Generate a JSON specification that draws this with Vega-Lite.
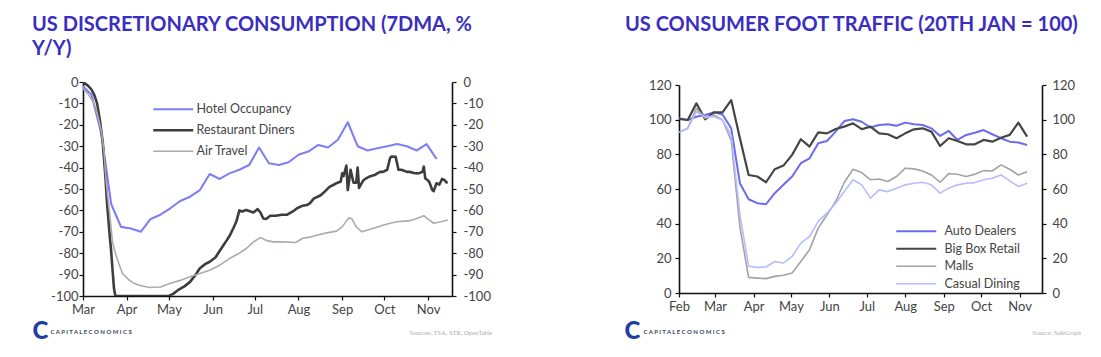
{
  "$schema": "https://vega.github.io/schema/vega-lite/v6.json",
  "background": "white",
  "padding": {"left": 32, "top": 15, "right": 0, "bottom": 0},
  "spacing": 132,
  "resolve": {"scale": {"color": "independent"}, "legend": {"color": "independent"}},
  "config": {
    "view": {"stroke": null},
    "font": "Lato",
    "title": {"font": "Lato", "fontSize": 20, "fontWeight": "bold", "color": "#3a2ec0", "anchor": "start", "frame": "group", "lineHeight": 24, "baseline": "top"},
    "axis": {"domainColor": "#111", "domainWidth": 1.6, "tickColor": "#111", "tickWidth": 1.2, "tickSize": 4, "labelFont": "Lato", "labelFontSize": 13, "labelColor": "#444", "grid": false, "labelPadding": 2},
    "legend": {"labelFont": "Lato", "labelFontSize": 12.5, "labelColor": "#444", "padding": 0}
  },
  "hconcat": [
    {
      "width": 369,
      "height": 214,
      "title": {"text": ["US DISCRETIONARY CONSUMPTION (7DMA, %", "Y/Y)"], "dx": -51, "offset": 17},
      "data": {"values": [
        {"d": "2020-03-01", "s": "Hotel Occupancy", "v": -2},
        {"d": "2020-03-07", "s": "Hotel Occupancy", "v": -6},
        {"d": "2020-03-14", "s": "Hotel Occupancy", "v": -24},
        {"d": "2020-03-21", "s": "Hotel Occupancy", "v": -57},
        {"d": "2020-03-28", "s": "Hotel Occupancy", "v": -67.7},
        {"d": "2020-04-04", "s": "Hotel Occupancy", "v": -68.5},
        {"d": "2020-04-11", "s": "Hotel Occupancy", "v": -70},
        {"d": "2020-04-18", "s": "Hotel Occupancy", "v": -64},
        {"d": "2020-04-25", "s": "Hotel Occupancy", "v": -62},
        {"d": "2020-05-02", "s": "Hotel Occupancy", "v": -59},
        {"d": "2020-05-09", "s": "Hotel Occupancy", "v": -55.6},
        {"d": "2020-05-16", "s": "Hotel Occupancy", "v": -53.6},
        {"d": "2020-05-23", "s": "Hotel Occupancy", "v": -50.5},
        {"d": "2020-05-30", "s": "Hotel Occupancy", "v": -43},
        {"d": "2020-06-06", "s": "Hotel Occupancy", "v": -45.3},
        {"d": "2020-06-13", "s": "Hotel Occupancy", "v": -42.7},
        {"d": "2020-06-20", "s": "Hotel Occupancy", "v": -41},
        {"d": "2020-06-27", "s": "Hotel Occupancy", "v": -38.8},
        {"d": "2020-07-04", "s": "Hotel Occupancy", "v": -30.6},
        {"d": "2020-07-11", "s": "Hotel Occupancy", "v": -38},
        {"d": "2020-07-18", "s": "Hotel Occupancy", "v": -38.8},
        {"d": "2020-07-25", "s": "Hotel Occupancy", "v": -37.5},
        {"d": "2020-08-01", "s": "Hotel Occupancy", "v": -34},
        {"d": "2020-08-08", "s": "Hotel Occupancy", "v": -32.5},
        {"d": "2020-08-15", "s": "Hotel Occupancy", "v": -29.4},
        {"d": "2020-08-22", "s": "Hotel Occupancy", "v": -30.6},
        {"d": "2020-08-29", "s": "Hotel Occupancy", "v": -27},
        {"d": "2020-09-05", "s": "Hotel Occupancy", "v": -18.8},
        {"d": "2020-09-12", "s": "Hotel Occupancy", "v": -30},
        {"d": "2020-09-19", "s": "Hotel Occupancy", "v": -32},
        {"d": "2020-09-26", "s": "Hotel Occupancy", "v": -31},
        {"d": "2020-10-03", "s": "Hotel Occupancy", "v": -30},
        {"d": "2020-10-10", "s": "Hotel Occupancy", "v": -29},
        {"d": "2020-10-17", "s": "Hotel Occupancy", "v": -30},
        {"d": "2020-10-24", "s": "Hotel Occupancy", "v": -32},
        {"d": "2020-10-31", "s": "Hotel Occupancy", "v": -29},
        {"d": "2020-11-07", "s": "Hotel Occupancy", "v": -36},
        {"d": "2020-03-01", "s": "Restaurant Diners", "v": 0},
        {"d": "2020-03-03", "s": "Restaurant Diners", "v": -1},
        {"d": "2020-03-05", "s": "Restaurant Diners", "v": -2},
        {"d": "2020-03-07", "s": "Restaurant Diners", "v": -3.5},
        {"d": "2020-03-09", "s": "Restaurant Diners", "v": -6},
        {"d": "2020-03-11", "s": "Restaurant Diners", "v": -10},
        {"d": "2020-03-13", "s": "Restaurant Diners", "v": -18},
        {"d": "2020-03-15", "s": "Restaurant Diners", "v": -28},
        {"d": "2020-03-17", "s": "Restaurant Diners", "v": -45},
        {"d": "2020-03-18", "s": "Restaurant Diners", "v": -56},
        {"d": "2020-03-20", "s": "Restaurant Diners", "v": -72},
        {"d": "2020-03-21", "s": "Restaurant Diners", "v": -79},
        {"d": "2020-03-22", "s": "Restaurant Diners", "v": -88},
        {"d": "2020-03-23", "s": "Restaurant Diners", "v": -96.5},
        {"d": "2020-03-24", "s": "Restaurant Diners", "v": -100},
        {"d": "2020-04-15", "s": "Restaurant Diners", "v": -100},
        {"d": "2020-05-01", "s": "Restaurant Diners", "v": -100},
        {"d": "2020-05-04", "s": "Restaurant Diners", "v": -99},
        {"d": "2020-05-08", "s": "Restaurant Diners", "v": -97},
        {"d": "2020-05-12", "s": "Restaurant Diners", "v": -95.5},
        {"d": "2020-05-16", "s": "Restaurant Diners", "v": -93.4},
        {"d": "2020-05-20", "s": "Restaurant Diners", "v": -90},
        {"d": "2020-05-23", "s": "Restaurant Diners", "v": -87},
        {"d": "2020-05-27", "s": "Restaurant Diners", "v": -85},
        {"d": "2020-05-30", "s": "Restaurant Diners", "v": -84},
        {"d": "2020-06-03", "s": "Restaurant Diners", "v": -82},
        {"d": "2020-06-06", "s": "Restaurant Diners", "v": -79},
        {"d": "2020-06-08", "s": "Restaurant Diners", "v": -77},
        {"d": "2020-06-11", "s": "Restaurant Diners", "v": -74},
        {"d": "2020-06-13", "s": "Restaurant Diners", "v": -72},
        {"d": "2020-06-16", "s": "Restaurant Diners", "v": -68},
        {"d": "2020-06-18", "s": "Restaurant Diners", "v": -65},
        {"d": "2020-06-20", "s": "Restaurant Diners", "v": -60},
        {"d": "2020-06-22", "s": "Restaurant Diners", "v": -60.5},
        {"d": "2020-06-25", "s": "Restaurant Diners", "v": -59.8},
        {"d": "2020-06-28", "s": "Restaurant Diners", "v": -60.5},
        {"d": "2020-06-30", "s": "Restaurant Diners", "v": -61},
        {"d": "2020-07-03", "s": "Restaurant Diners", "v": -59.4},
        {"d": "2020-07-05", "s": "Restaurant Diners", "v": -61},
        {"d": "2020-07-07", "s": "Restaurant Diners", "v": -63.8},
        {"d": "2020-07-09", "s": "Restaurant Diners", "v": -64},
        {"d": "2020-07-12", "s": "Restaurant Diners", "v": -62.5},
        {"d": "2020-07-16", "s": "Restaurant Diners", "v": -62.5},
        {"d": "2020-07-20", "s": "Restaurant Diners", "v": -62},
        {"d": "2020-07-24", "s": "Restaurant Diners", "v": -62},
        {"d": "2020-07-28", "s": "Restaurant Diners", "v": -60.5},
        {"d": "2020-07-31", "s": "Restaurant Diners", "v": -59},
        {"d": "2020-08-04", "s": "Restaurant Diners", "v": -57.8},
        {"d": "2020-08-07", "s": "Restaurant Diners", "v": -57.5},
        {"d": "2020-08-09", "s": "Restaurant Diners", "v": -56.7},
        {"d": "2020-08-12", "s": "Restaurant Diners", "v": -54.4},
        {"d": "2020-08-15", "s": "Restaurant Diners", "v": -53.5},
        {"d": "2020-08-17", "s": "Restaurant Diners", "v": -52.8},
        {"d": "2020-08-20", "s": "Restaurant Diners", "v": -51},
        {"d": "2020-08-23", "s": "Restaurant Diners", "v": -49},
        {"d": "2020-08-26", "s": "Restaurant Diners", "v": -48},
        {"d": "2020-08-28", "s": "Restaurant Diners", "v": -47.3},
        {"d": "2020-08-31", "s": "Restaurant Diners", "v": -46.5},
        {"d": "2020-09-01", "s": "Restaurant Diners", "v": -42.7},
        {"d": "2020-09-02", "s": "Restaurant Diners", "v": -44},
        {"d": "2020-09-04", "s": "Restaurant Diners", "v": -39},
        {"d": "2020-09-05", "s": "Restaurant Diners", "v": -50.5},
        {"d": "2020-09-07", "s": "Restaurant Diners", "v": -41},
        {"d": "2020-09-09", "s": "Restaurant Diners", "v": -47},
        {"d": "2020-09-11", "s": "Restaurant Diners", "v": -47},
        {"d": "2020-09-12", "s": "Restaurant Diners", "v": -40},
        {"d": "2020-09-13", "s": "Restaurant Diners", "v": -49.5},
        {"d": "2020-09-16", "s": "Restaurant Diners", "v": -46},
        {"d": "2020-09-18", "s": "Restaurant Diners", "v": -45},
        {"d": "2020-09-21", "s": "Restaurant Diners", "v": -44},
        {"d": "2020-09-24", "s": "Restaurant Diners", "v": -43.5},
        {"d": "2020-09-26", "s": "Restaurant Diners", "v": -42.7},
        {"d": "2020-09-28", "s": "Restaurant Diners", "v": -42},
        {"d": "2020-09-30", "s": "Restaurant Diners", "v": -42},
        {"d": "2020-10-03", "s": "Restaurant Diners", "v": -41},
        {"d": "2020-10-05", "s": "Restaurant Diners", "v": -35.6},
        {"d": "2020-10-06", "s": "Restaurant Diners", "v": -34.8},
        {"d": "2020-10-09", "s": "Restaurant Diners", "v": -35},
        {"d": "2020-10-11", "s": "Restaurant Diners", "v": -41},
        {"d": "2020-10-13", "s": "Restaurant Diners", "v": -41},
        {"d": "2020-10-15", "s": "Restaurant Diners", "v": -41.5},
        {"d": "2020-10-17", "s": "Restaurant Diners", "v": -42},
        {"d": "2020-10-19", "s": "Restaurant Diners", "v": -42},
        {"d": "2020-10-22", "s": "Restaurant Diners", "v": -42.5},
        {"d": "2020-10-24", "s": "Restaurant Diners", "v": -42.7},
        {"d": "2020-10-26", "s": "Restaurant Diners", "v": -42.5},
        {"d": "2020-10-28", "s": "Restaurant Diners", "v": -42},
        {"d": "2020-10-29", "s": "Restaurant Diners", "v": -39.5},
        {"d": "2020-10-30", "s": "Restaurant Diners", "v": -45},
        {"d": "2020-11-01", "s": "Restaurant Diners", "v": -46},
        {"d": "2020-11-02", "s": "Restaurant Diners", "v": -47},
        {"d": "2020-11-04", "s": "Restaurant Diners", "v": -50.5},
        {"d": "2020-11-05", "s": "Restaurant Diners", "v": -51},
        {"d": "2020-11-07", "s": "Restaurant Diners", "v": -47.3},
        {"d": "2020-11-09", "s": "Restaurant Diners", "v": -48},
        {"d": "2020-11-11", "s": "Restaurant Diners", "v": -45.3},
        {"d": "2020-11-13", "s": "Restaurant Diners", "v": -46},
        {"d": "2020-11-14", "s": "Restaurant Diners", "v": -46.9},
        {"d": "2020-11-15", "s": "Restaurant Diners", "v": -47},
        {"d": "2020-03-01", "s": "Air Travel", "v": -3},
        {"d": "2020-03-05", "s": "Air Travel", "v": -6},
        {"d": "2020-03-08", "s": "Air Travel", "v": -9},
        {"d": "2020-03-10", "s": "Air Travel", "v": -12},
        {"d": "2020-03-12", "s": "Air Travel", "v": -17},
        {"d": "2020-03-14", "s": "Air Travel", "v": -23},
        {"d": "2020-03-16", "s": "Air Travel", "v": -33},
        {"d": "2020-03-17", "s": "Air Travel", "v": -43},
        {"d": "2020-03-18", "s": "Air Travel", "v": -50},
        {"d": "2020-03-20", "s": "Air Travel", "v": -62},
        {"d": "2020-03-22", "s": "Air Travel", "v": -75},
        {"d": "2020-03-24", "s": "Air Travel", "v": -80},
        {"d": "2020-03-26", "s": "Air Travel", "v": -84},
        {"d": "2020-03-29", "s": "Air Travel", "v": -89.5},
        {"d": "2020-04-03", "s": "Air Travel", "v": -92.7},
        {"d": "2020-04-06", "s": "Air Travel", "v": -94},
        {"d": "2020-04-10", "s": "Air Travel", "v": -95},
        {"d": "2020-04-17", "s": "Air Travel", "v": -96},
        {"d": "2020-04-25", "s": "Air Travel", "v": -95.8},
        {"d": "2020-05-02", "s": "Air Travel", "v": -94},
        {"d": "2020-05-09", "s": "Air Travel", "v": -92.7},
        {"d": "2020-05-16", "s": "Air Travel", "v": -91},
        {"d": "2020-05-23", "s": "Air Travel", "v": -89.5},
        {"d": "2020-05-30", "s": "Air Travel", "v": -88},
        {"d": "2020-06-06", "s": "Air Travel", "v": -85.6},
        {"d": "2020-06-13", "s": "Air Travel", "v": -82.5},
        {"d": "2020-06-20", "s": "Air Travel", "v": -80},
        {"d": "2020-06-25", "s": "Air Travel", "v": -77.8},
        {"d": "2020-06-30", "s": "Air Travel", "v": -74.7},
        {"d": "2020-07-05", "s": "Air Travel", "v": -72.7},
        {"d": "2020-07-09", "s": "Air Travel", "v": -74},
        {"d": "2020-07-14", "s": "Air Travel", "v": -74.7},
        {"d": "2020-07-21", "s": "Air Travel", "v": -74.7},
        {"d": "2020-07-30", "s": "Air Travel", "v": -75},
        {"d": "2020-08-04", "s": "Air Travel", "v": -73},
        {"d": "2020-08-09", "s": "Air Travel", "v": -72.5},
        {"d": "2020-08-14", "s": "Air Travel", "v": -71.6},
        {"d": "2020-08-21", "s": "Air Travel", "v": -70.5},
        {"d": "2020-08-28", "s": "Air Travel", "v": -69.7},
        {"d": "2020-09-01", "s": "Air Travel", "v": -67.7},
        {"d": "2020-09-04", "s": "Air Travel", "v": -65},
        {"d": "2020-09-06", "s": "Air Travel", "v": -63.4},
        {"d": "2020-09-08", "s": "Air Travel", "v": -64},
        {"d": "2020-09-11", "s": "Air Travel", "v": -67.7},
        {"d": "2020-09-15", "s": "Air Travel", "v": -70},
        {"d": "2020-09-21", "s": "Air Travel", "v": -68.8},
        {"d": "2020-09-25", "s": "Air Travel", "v": -68},
        {"d": "2020-09-30", "s": "Air Travel", "v": -66.9},
        {"d": "2020-10-05", "s": "Air Travel", "v": -66},
        {"d": "2020-10-10", "s": "Air Travel", "v": -65.3},
        {"d": "2020-10-15", "s": "Air Travel", "v": -65},
        {"d": "2020-10-19", "s": "Air Travel", "v": -64.8},
        {"d": "2020-10-24", "s": "Air Travel", "v": -63.8},
        {"d": "2020-10-29", "s": "Air Travel", "v": -62.5},
        {"d": "2020-11-02", "s": "Air Travel", "v": -64.5},
        {"d": "2020-11-05", "s": "Air Travel", "v": -66},
        {"d": "2020-11-10", "s": "Air Travel", "v": -65.3},
        {"d": "2020-11-15", "s": "Air Travel", "v": -64.5}
      ]},
      "encoding": {
        "x": {
          "field": "d", "type": "temporal",
          "scale": {"type": "utc", "domain": [{"year": 2020, "month": 3, "date": 1, "utc": true}, {"year": 2020, "month": 11, "date": 18, "utc": true}]},
          "axis": {
            "tickCount": {"interval": "month", "step": 1}, "labelExpr": "utcFormat(datum.value, '%b')", "labelFlush": false, "labelOverlap": false, "labelPadding": 3,
            "title": "Sources: TSA, STR, OpenTable", "titleFont": "Liberation Serif", "titleFontSize": 6.5, "titleFontWeight": "normal", "titleColor": "#aaaaaa",
            "titleAlign": "right", "titleBaseline": "middle", "titleX": 409, "titleY": 36
          }
        }
      },
      "layer": [
        {
          "mark": {"type": "line", "clip": true, "strokeJoin": "round"},
          "encoding": {
            "y": {
              "field": "v", "type": "quantitative",
              "scale": {"domain": [-100, 0], "nice": false},
              "axis": {
                "orient": "left", "values": [-100, -90, -80, -70, -60, -50, -40, -30, -20, -10, 0], "labelExpr": "'' + datum.value", "labelPadding": 1,
                "title": "C A P I T A L   E C O N O M I C S", "titleAngle": 0, "titleFont": "Lato", "titleFontSize": 6, "titleFontWeight": "bold", "titleColor": "#3a4560",
                "titleAlign": "left", "titleBaseline": "middle", "titleX": -33, "titleY": 249
              }
            },
            "color": {
              "field": "s", "type": "nominal",
              "scale": {"domain": ["Hotel Occupancy", "Restaurant Diners", "Air Travel"], "range": ["#7f7ff5", "#3d3d3d", "#b0a8b0"]},
              "legend": {
                "orient": "none", "legendX": 84, "legendY": 21, "title": null, "symbolType": "M-4,0H4", "symbolSize": 100, "labelOffset": 17, "rowPadding": 8,
                "encode": {"symbols": {"update": {"strokeWidth": {"signal": "datum.value === 'Restaurant Diners' ? 2.6 : datum.value === 'Air Travel' ? 1.6 : 2.1"}}}}
              }
            },
            "strokeWidth": {"condition": [{"test": "datum.s === 'Restaurant Diners'", "value": 2.6}, {"test": "datum.s === 'Air Travel'", "value": 1.6}], "value": 2.1}
          }
        },
        {
          "mark": {"type": "line", "strokeOpacity": 0},
          "encoding": {
            "y": {
              "field": "v", "type": "quantitative",
              "axis": {
                "orient": "right", "values": [-100, -90, -80, -70, -60, -50, -40, -30, -20, -10, 0], "labelExpr": "'' + datum.value", "labelPadding": 7,
                "title": "C", "titleAngle": 0, "titleFont": "Lato", "titleFontSize": 24, "titleFontWeight": 900, "titleColor": "#1f3f9f",
                "titleAlign": "center", "titleBaseline": "middle", "titleX": -412, "titleY": 249
              }
            },
            "detail": {"field": "s", "type": "nominal"}
          }
        }
      ],
      "resolve": {"axis": {"y": "independent"}}
    },
    {
      "width": 363,
      "height": 211,
      "title": {"text": "US CONSUMER FOOT TRAFFIC (20TH JAN = 100)", "dx": -54, "offset": 44},
      "data": {"values": [
        {"d": "2020-02-01", "Auto Dealers": 100.8, "Big Box Retail": 100.4, "Malls": 92.7, "Casual Dining": 92.7},
        {"d": "2020-02-08", "Auto Dealers": 99.8, "Big Box Retail": 99.8, "Malls": 95, "Casual Dining": 95},
        {"d": "2020-02-15", "Auto Dealers": 101.7, "Big Box Retail": 109.4, "Malls": 106.5, "Casual Dining": 104.6},
        {"d": "2020-02-22", "Auto Dealers": 102.7, "Big Box Retail": 100.2, "Malls": 100.8, "Casual Dining": 101.7},
        {"d": "2020-02-29", "Auto Dealers": 104.2, "Big Box Retail": 104.2, "Malls": 102.7, "Casual Dining": 101.7},
        {"d": "2020-03-07", "Auto Dealers": 103, "Big Box Retail": 104.2, "Malls": 99.8, "Casual Dining": 99.8},
        {"d": "2020-03-14", "Auto Dealers": 95, "Big Box Retail": 111.3, "Malls": 88, "Casual Dining": 91},
        {"d": "2020-03-21", "Auto Dealers": 63.3, "Big Box Retail": 89.3, "Malls": 38, "Casual Dining": 45},
        {"d": "2020-03-28", "Auto Dealers": 54.1, "Big Box Retail": 68.1, "Malls": 9, "Casual Dining": 15.4},
        {"d": "2020-04-04", "Auto Dealers": 51.8, "Big Box Retail": 67.2, "Malls": 8.6, "Casual Dining": 14.8},
        {"d": "2020-04-11", "Auto Dealers": 51.2, "Big Box Retail": 63.9, "Malls": 8.3, "Casual Dining": 15},
        {"d": "2020-04-18", "Auto Dealers": 57.6, "Big Box Retail": 71.4, "Malls": 9.6, "Casual Dining": 18.2},
        {"d": "2020-04-25", "Auto Dealers": 62.4, "Big Box Retail": 73.5, "Malls": 10.2, "Casual Dining": 17.3},
        {"d": "2020-05-02", "Auto Dealers": 67.2, "Big Box Retail": 79.7, "Malls": 11.5, "Casual Dining": 21.1},
        {"d": "2020-05-09", "Auto Dealers": 74.9, "Big Box Retail": 88.7, "Malls": 18.2, "Casual Dining": 28.8},
        {"d": "2020-05-16", "Auto Dealers": 77.7, "Big Box Retail": 84.5, "Malls": 25, "Casual Dining": 32.6},
        {"d": "2020-05-23", "Auto Dealers": 86.4, "Big Box Retail": 92.7, "Malls": 37.4, "Casual Dining": 41.3},
        {"d": "2020-05-30", "Auto Dealers": 87.7, "Big Box Retail": 92.1, "Malls": 45, "Casual Dining": 46.1},
        {"d": "2020-06-06", "Auto Dealers": 93.1, "Big Box Retail": 94.6, "Malls": 52.8, "Casual Dining": 51.8},
        {"d": "2020-06-13", "Auto Dealers": 99.2, "Big Box Retail": 96, "Malls": 63.9, "Casual Dining": 58.5},
        {"d": "2020-06-20", "Auto Dealers": 100.2, "Big Box Retail": 97.9, "Malls": 71.4, "Casual Dining": 65.3},
        {"d": "2020-06-27", "Auto Dealers": 98.8, "Big Box Retail": 94.5, "Malls": 69.5, "Casual Dining": 62.4},
        {"d": "2020-07-04", "Auto Dealers": 95.5, "Big Box Retail": 96, "Malls": 65.3, "Casual Dining": 54.7},
        {"d": "2020-07-11", "Auto Dealers": 96.9, "Big Box Retail": 92.1, "Malls": 65.8, "Casual Dining": 59.5},
        {"d": "2020-07-18", "Auto Dealers": 97.3, "Big Box Retail": 91.6, "Malls": 64.3, "Casual Dining": 58.5},
        {"d": "2020-07-25", "Auto Dealers": 96.5, "Big Box Retail": 89.3, "Malls": 67.2, "Casual Dining": 60.5},
        {"d": "2020-08-01", "Auto Dealers": 98.3, "Big Box Retail": 92.1, "Malls": 72, "Casual Dining": 62.4},
        {"d": "2020-08-08", "Auto Dealers": 97.3, "Big Box Retail": 94.4, "Malls": 71.6, "Casual Dining": 63.3},
        {"d": "2020-08-15", "Auto Dealers": 96.9, "Big Box Retail": 95, "Malls": 70.4, "Casual Dining": 63.9},
        {"d": "2020-08-22", "Auto Dealers": 95, "Big Box Retail": 93.1, "Malls": 68.1, "Casual Dining": 62.4},
        {"d": "2020-08-29", "Auto Dealers": 90.6, "Big Box Retail": 84.8, "Malls": 63.9, "Casual Dining": 57.6},
        {"d": "2020-09-05", "Auto Dealers": 93.5, "Big Box Retail": 89.3, "Malls": 68.9, "Casual Dining": 60.5},
        {"d": "2020-09-12", "Auto Dealers": 88.3, "Big Box Retail": 87.7, "Malls": 68.5, "Casual Dining": 62.4},
        {"d": "2020-09-19", "Auto Dealers": 91.2, "Big Box Retail": 85.8, "Malls": 67.2, "Casual Dining": 63.3},
        {"d": "2020-09-26", "Auto Dealers": 92.5, "Big Box Retail": 85.8, "Malls": 68.5, "Casual Dining": 63.7},
        {"d": "2020-10-03", "Auto Dealers": 94, "Big Box Retail": 88.3, "Malls": 70.6, "Casual Dining": 65.3},
        {"d": "2020-10-10", "Auto Dealers": 91.6, "Big Box Retail": 87.3, "Malls": 70.4, "Casual Dining": 66.2},
        {"d": "2020-10-17", "Auto Dealers": 89.3, "Big Box Retail": 89.6, "Malls": 73.9, "Casual Dining": 68.1},
        {"d": "2020-10-24", "Auto Dealers": 87.3, "Big Box Retail": 91.2, "Malls": 71.4, "Casual Dining": 64.7},
        {"d": "2020-10-31", "Auto Dealers": 86.8, "Big Box Retail": 98.3, "Malls": 68.1, "Casual Dining": 61.4},
        {"d": "2020-11-07", "Auto Dealers": 85.4, "Big Box Retail": 90.2, "Malls": 70, "Casual Dining": 63.3}
      ]},
      "transform": [{"fold": ["Auto Dealers", "Big Box Retail", "Malls", "Casual Dining"], "as": ["s", "v"]}],
      "encoding": {
        "x": {
          "field": "d", "type": "temporal",
          "scale": {"type": "utc", "domain": [{"year": 2020, "month": 2, "date": 1, "utc": true}, {"year": 2020, "month": 11, "date": 19, "utc": true}]},
          "axis": {
            "tickCount": {"interval": "month", "step": 1}, "labelExpr": "utcFormat(datum.value, '%b')", "labelFlush": false, "labelOverlap": false, "labelPadding": 3,
            "title": "Source: SafeGraph", "titleFont": "Liberation Serif", "titleFontSize": 6.5, "titleFontWeight": "normal", "titleColor": "#aaaaaa",
            "titleAlign": "right", "titleBaseline": "middle", "titleX": 402, "titleY": 39
          }
        }
      },
      "layer": [
        {
          "mark": {"type": "line", "clip": true, "strokeJoin": "round"},
          "encoding": {
            "y": {
              "field": "v", "type": "quantitative",
              "scale": {"domain": [0, 120], "nice": false, "range": [211, 3]},
              "axis": {
                "orient": "left", "values": [0, 20, 40, 60, 80, 100, 120], "labelPadding": 4,
                "title": "C A P I T A L   E C O N O M I C S", "titleAngle": 0, "titleFont": "Lato", "titleFontSize": 6, "titleFontWeight": "bold", "titleColor": "#3a4560",
                "titleAlign": "left", "titleBaseline": "middle", "titleX": -36, "titleY": 249
              }
            },
            "color": {
              "field": "s", "type": "nominal",
              "scale": {"domain": ["Auto Dealers", "Big Box Retail", "Malls", "Casual Dining"], "range": ["#6b6bef", "#454545", "#a3a3a3", "#b5bcff"]},
              "legend": {
                "orient": "none", "legendX": 231, "legendY": 143, "title": null, "symbolType": "M-4,0H4", "symbolSize": 100, "labelOffset": 22, "rowPadding": 4.5,
                "encode": {"symbols": {"update": {"strokeWidth": {"signal": "datum.value === 'Big Box Retail' ? 2.2 : datum.value === 'Auto Dealers' ? 2 : 1.6"}}}}
              }
            },
            "strokeWidth": {"condition": [{"test": "datum.s === 'Big Box Retail'", "value": 2.2}, {"test": "datum.s === 'Auto Dealers'", "value": 2}], "value": 1.6}
          }
        },
        {
          "mark": {"type": "line", "strokeOpacity": 0},
          "encoding": {
            "y": {
              "field": "v", "type": "quantitative",
              "axis": {
                "orient": "right", "values": [0, 20, 40, 60, 80, 100, 120], "labelPadding": 6,
                "title": "C", "titleAngle": 0, "titleFont": "Lato", "titleFontSize": 24, "titleFontWeight": 900, "titleColor": "#1f3f9f",
                "titleAlign": "center", "titleBaseline": "middle", "titleX": -410, "titleY": 249
              }
            },
            "detail": {"field": "s", "type": "nominal"}
          }
        }
      ],
      "resolve": {"axis": {"y": "independent"}}
    }
  ]
}
